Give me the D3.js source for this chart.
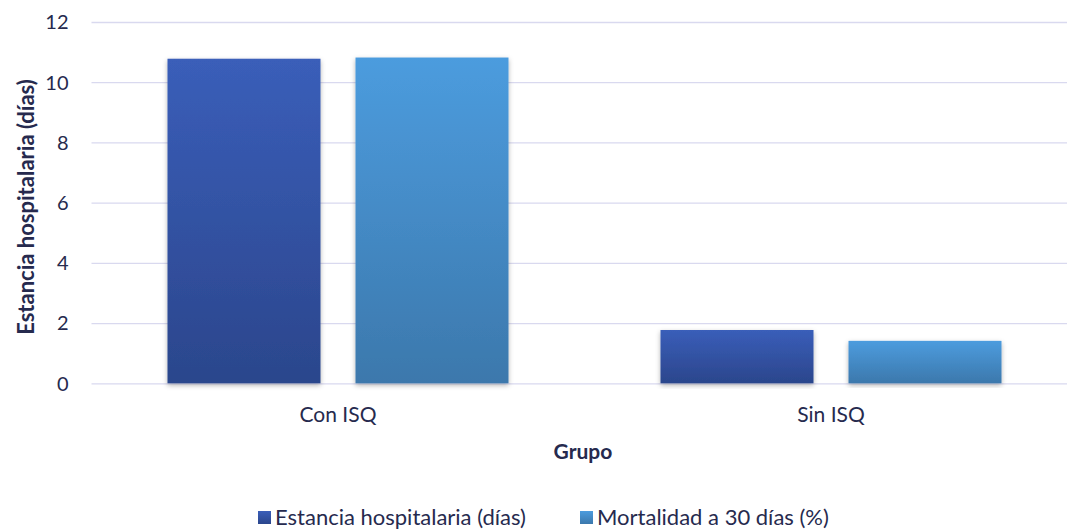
<!DOCTYPE html>
<html>
<head>
<meta charset="utf-8">
<script src="https://cdn.jsdelivr.net/npm/d3@7"></script>
<style>
  body { margin: 0; background: #fff; }
  svg text { font-family: Lato, "Open Sans", sans-serif; fill: #262a4e; }
</style>
</head>
<body>
<svg id="chart" width="1067" height="531"></svg>
<script>
const groups = ["Con ISQ", "Sin ISQ"];
const seriesNames = ["Estancia hospitalaria (días)", "Mortalidad a 30 días (%)"];
const estancia = [10.78, 1.77];
const mortalidad = [10.82, 1.41];
const yTicks = [0, 2, 4, 6, 8, 10, 12];

const svg = d3.select("#chart");
const m = { left: 91.5, right: 1077.5, top: 22, bottom: 383.3 };

const x0 = d3.scaleBand().domain(groups).range([m.left, m.right]);
// two bars of ~153px separated by a ~35px gap, centred in each group band
const outer = 76;
const barW = 153, gap = 35;
const x1 = d3.scaleBand().domain(seriesNames)
  .range([outer, x0.bandwidth() - outer])
  .paddingInner(gap / (barW + gap)).paddingOuter(0);
const y = d3.scaleLinear().domain([0, 12]).range([m.bottom, m.top]);

const defs = svg.append("defs");
const grads = [
  { id: "g0", top: "#3a5eb9", bottom: "#2b468c" },
  { id: "g1", top: "#4c9cde", bottom: "#3c78ac" }
];
grads.forEach(g => {
  const lg = defs.append("linearGradient").attr("id", g.id).attr("x1", 0).attr("y1", 0).attr("x2", 0).attr("y2", 1);
  lg.append("stop").attr("offset", "0%").attr("stop-color", g.top);
  lg.append("stop").attr("offset", "100%").attr("stop-color", g.bottom);
});
const f = defs.append("filter").attr("id", "shadow").attr("x", "-10%").attr("y", "-10%").attr("width", "120%").attr("height", "120%");
f.append("feDropShadow").attr("dx", 0).attr("dy", 2).attr("stdDeviation", 2.5).attr("flood-color", "#000").attr("flood-opacity", 0.3);

// value axis with gridlines across the plot
const yAxis = d3.axisLeft(y).tickValues(yTicks).tickSize(-(m.right - m.left)).tickPadding(23).tickFormat(d3.format("d"));
const ga = svg.append("g").attr("transform", `translate(${m.left},0)`).call(yAxis);
ga.select(".domain").remove();
ga.selectAll(".tick line").attr("stroke", "#d9d9ef").attr("stroke-width", 1.3);
ga.selectAll(".tick text").attr("font-size", 20).attr("dy", "0.34em").style("fill", "#262a4e");

// bars
const data = groups.map((g, i) => ({ group: g, values: [estancia[i], mortalidad[i]] }));
const gg = svg.append("g").selectAll("g").data(data).join("g")
  .attr("transform", d => `translate(${x0(d.group)},0)`);
gg.selectAll("rect").data(d => d.values.map((v, j) => ({ key: seriesNames[j], v, j })))
  .join("rect")
  .attr("x", d => x1(d.key))
  .attr("width", x1.bandwidth())
  .attr("y", d => y(d.v))
  .attr("height", d => y(0) - y(d.v))
  .attr("fill", d => `url(#g${d.j})`)
  .attr("filter", "url(#shadow)");

// category labels
svg.append("g").selectAll("text").data(groups).join("text")
  .attr("x", d => x0(d) + x0.bandwidth() / 2)
  .attr("y", 422)
  .attr("text-anchor", "middle")
  .attr("font-size", 21)
  .text(d => d);

// axis titles
svg.append("text").attr("x", 583).attr("y", 459).attr("text-anchor", "middle")
  .attr("font-size", 21).attr("font-weight", "bold").text("Grupo");
svg.append("text").attr("transform", `translate(34,207) rotate(-90)`)
  .attr("text-anchor", "middle").attr("font-size", 22).attr("font-weight", "bold")
  .text("Estancia hospitalaria (días)");

// legend
const legendX = [258, 580];
const lg = svg.append("g").selectAll("g").data(seriesNames).join("g")
  .attr("transform", (d, i) => `translate(${legendX[i]},511)`);
lg.append("rect").attr("width", 13).attr("height", 13).attr("fill", (d, i) => `url(#g${i})`);
lg.append("text").attr("x", 17).attr("y", 14).attr("font-size", 22).text(d => d);
</script>
</body>
</html>
